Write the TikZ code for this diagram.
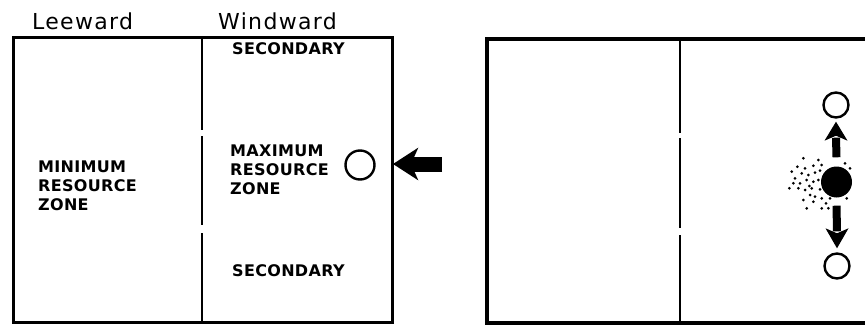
\documentclass[tikz,border=0pt]{standalone}
\usepackage{fontspec}
\usetikzlibrary{arrows.meta}
\newfontfamily\handfont[LetterSpace=6]{DejaVu Sans}
\newfontfamily\capsfont[LetterSpace=2]{DejaVu Sans}
\tikzset{
  boxline/.style={line width=3pt},
  divline/.style={line width=2.2pt},
  title/.style={font=\handfont\fontsize{22}{24}\selectfont, inner sep=0pt},
  zonelabel/.style={font=\capsfont\bfseries\fontsize{16}{19}\selectfont, inner sep=0pt, align=left},
  opencirc/.style={circle, draw, line width=2.4pt, minimum size=25pt, inner sep=0pt},
  fullcirc/.style={circle, fill=black, minimum size=31pt, inner sep=0pt},
  shaft/.style={line width=8pt},
  head/.style={fill=black},
  windarrow/.style={line width=15pt, -{Stealth[length=25pt,width=32pt,inset=7pt]}},
  dot/.style={fill=black},
}
\begin{document}
\begin{tikzpicture}[x=1pt,y=-1pt]
\useasboundingbox (0,0) rectangle (865,329);
% titles
\node[title, anchor=west] (lee) at (32,21) {Leeward};
\node[title, anchor=west] (wind) at (218,21) {Windward};
% left box
\draw[boxline] (13,38) rectangle (392,322);
\draw[divline] (202,38) -- (202,130) (202,136) -- (202,225) (202,233) -- (202,322);
% labels
\node[zonelabel, anchor=west] (sec1) at (232,49) {SECONDARY};
\node[zonelabel, anchor=west] (sec2) at (232,271) {SECONDARY};
\node[zonelabel, anchor=north west] (maxz) at (230,145) {MAXIMUM\\RESOURCE\\ZONE};
\node[zonelabel, anchor=north west] (minz) at (38,161) {MINIMUM\\RESOURCE\\ZONE};
\node[opencirc, minimum size=29pt] (res) at (360,165) {};
\coordinate (windstart) at (442,164);
\coordinate (windtip) at (393,164);
\draw[windarrow] (windstart) -- (windtip);
% right box
\draw[boxline, line width=3.5pt] (865,39) -- (487,39) -- (487,323) -- (865,323);
\draw[divline] (680,39) -- (680,133) (680,138) -- (680,228) (680,235) -- (680,323);
\node[opencirc] (up) at (836,105) {};
\node[fullcirc] (mid) at (836.5,182) {};
\node[opencirc] (down) at (837,266) {};
% upward arrow
\draw[shaft] ([yshift=9pt]mid.north) -- ([yshift=-19pt]up.south);
\fill[head] ([yshift=-3pt]up.south) -- ++(-11.5,19) -- ++(11.5,-5) -- ++(11.5,5) -- cycle;
% downward arrow
\draw[shaft] ([yshift=-8pt]mid.south) -- ([yshift=21pt]down.north);
\fill[head] ([yshift=4pt]down.north) -- ++(-11.5,-20) -- ++(11.5,5) -- ++(11.5,-5) -- cycle;
% stipple
\foreach \zx/\zy in {130/175,175/180,112/200,135/205,160/197,185/195,95/215,125/220,145/225,165/218,180/212,105/235,140/240,120/250,160/245,175/240,88/265,115/265,135/270,155/265,180/268,150/285,165/290,185/295,130/300,160/305,140/325,185/325,205/325,210/295,255/190,270/205,260/295,100/250,148/258,198/310}
  \fill[dot] ({760+\zx/3},{100+\zy/3}) circle (1.5pt);
\end{tikzpicture}
\end{document}
